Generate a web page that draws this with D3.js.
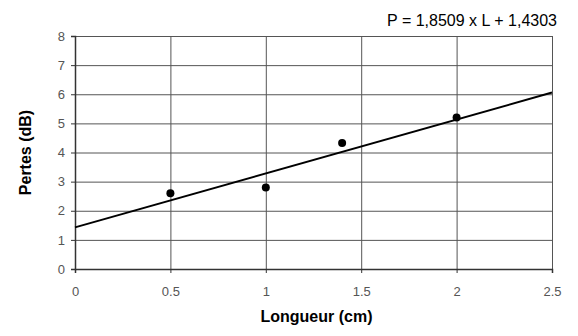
<!DOCTYPE html>
<html>
<head>
<meta charset="utf-8">
<script src="https://cdn.jsdelivr.net/npm/d3@7"></script>
<style>
  body { margin: 0; background: #fff; }
  text { font-family: "Liberation Sans", Arial, sans-serif; }
</style>
</head>
<body>
<svg id="chart"></svg>
<script>
// measured points
var longueur = [0.5, 1.0, 1.4, 2.0];
var pertes = [2.6, 2.8, 4.33, 5.2];

// fitted line P = a x L + b
var slope = 1.8509;
var intercept = 1.4303;
var equation = "P = 1,8509 x L + 1,4303";

var xTicks = [0, 0.5, 1, 1.5, 2, 2.5];
var yTicks = [0, 1, 2, 3, 4, 5, 6, 7, 8];

var svgWidth = 578, svgHeight = 336;
var margin = { top: 36, right: 26, bottom: 67, left: 75 };
var width = svgWidth - margin.left - margin.right;
var height = svgHeight - margin.top - margin.bottom;

var svg = d3.select("#chart")
    .attr("width", svgWidth)
    .attr("height", svgHeight);

var g = svg.append("g")
    .attr("transform", "translate(" + margin.left + "," + margin.top + ")");

var x = d3.scaleLinear().domain([0, 2.5]).range([0, width]);
var y = d3.scaleLinear().domain([0, 8]).range([height, 0]);

// grid
g.append("g")
    .selectAll("line")
    .data(yTicks)
    .join("line")
    .attr("x1", 0)
    .attr("x2", width)
    .attr("y1", function(d) { return y(d) + 0.5; })
    .attr("y2", function(d) { return y(d) + 0.5; })
    .attr("stroke", "#555")
    .attr("stroke-width", 1);

g.append("g")
    .selectAll("line")
    .data(xTicks)
    .join("line")
    .attr("x1", function(d) { return x(d) + 0.5; })
    .attr("x2", function(d) { return x(d) + 0.5; })
    .attr("y1", 0)
    .attr("y2", height)
    .attr("stroke", "#555")
    .attr("stroke-width", 1);

// axes
var xAxis = g.append("g")
    .attr("transform", "translate(0," + height + ")")
    .call(d3.axisBottom(x).tickValues(xTicks).tickSize(4).tickPadding(14)
      .tickFormat(function(d) { return String(d); }));

var yAxis = g.append("g")
    .call(d3.axisLeft(y).tickValues(yTicks).tickSize(4).tickPadding(6));

[xAxis, yAxis].forEach(function(ax) {
  ax.select(".domain").attr("stroke", "#333").attr("stroke-width", 1.5);
  ax.selectAll(".tick line").attr("stroke", "#333");
  ax.selectAll(".tick text")
      .attr("fill", "#555")
      .style("font-size", "13px")
      .style("font-family", "'Liberation Sans', Arial, sans-serif");
});

// regression line
g.append("line")
    .attr("x1", x(0))
    .attr("y1", y(intercept))
    .attr("x2", x(2.5))
    .attr("y2", y(slope * 2.5 + intercept))
    .attr("stroke", "#000")
    .attr("stroke-width", 2);

// points
g.selectAll("circle")
    .data(longueur)
    .join("circle")
    .attr("cx", function(d) { return x(d); })
    .attr("cy", function(d, i) { return y(pertes[i]); })
    .attr("r", 4)
    .attr("fill", "#000");

// titles
svg.append("text")
    .attr("x", 557)
    .attr("y", 26)
    .attr("text-anchor", "end")
    .style("font-size", "16px")
    .attr("fill", "#000")
    .text(equation);

svg.append("text")
    .attr("x", margin.left + width / 2 + 3)
    .attr("y", 322)
    .attr("text-anchor", "middle")
    .style("font-size", "16px")
    .style("font-weight", "bold")
    .text("Longueur (cm)");

svg.append("text")
    .attr("transform", "translate(31," + (margin.top + height / 2) + ") rotate(-90)")
    .attr("text-anchor", "middle")
    .style("font-size", "16px")
    .style("font-weight", "bold")
    .text("Pertes (dB)");
</script>
</body>
</html>
